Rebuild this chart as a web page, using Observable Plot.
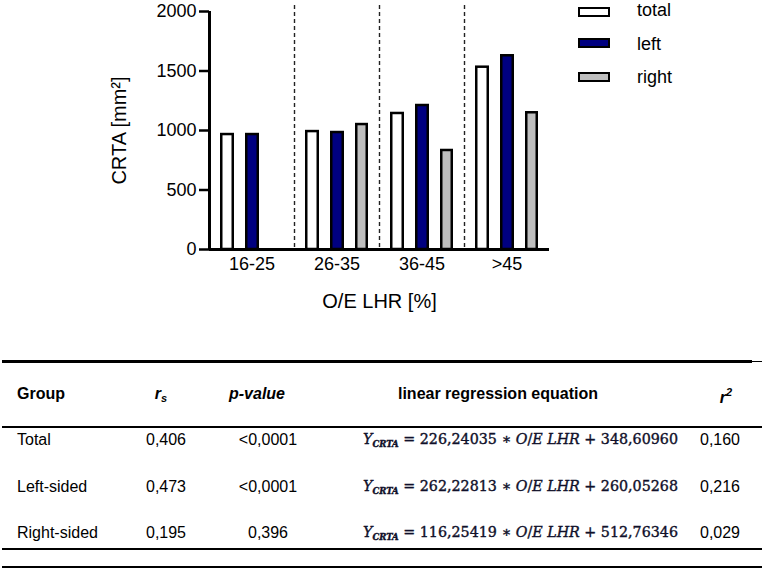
<!DOCTYPE html>
<html><head><meta charset="utf-8">
<script src="https://cdn.jsdelivr.net/npm/d3@7"></script>
<script src="https://cdn.jsdelivr.net/npm/@observablehq/plot@0.6"></script>
<style>
body{margin:0;background:#fff;font-family:"Liberation Sans",Arial,sans-serif;color:#000;}
#wrap{position:relative;width:765px;height:570px;overflow:hidden;}
#chart{position:absolute;left:0;top:0;}
.abs{position:absolute;white-space:nowrap;line-height:16px;font-size:16px;}
.c{transform:translateX(-50%);}
.hd{font-weight:bold;}
.line{position:absolute;background:#000;}
.leg-box{position:absolute;box-sizing:border-box;width:32px;height:10px;border:2.5px solid #000;}
.leg-txt{position:absolute;font-size:18px;line-height:18px;}
.eq{position:absolute;white-space:nowrap;font-family:"DejaVu Serif",serif;font-size:15px;line-height:16px;color:#10102a;transform-origin:0 0;-webkit-text-stroke:0.4px #10102a;}
.eq i{font-style:italic;}
.eq sub{font-size:9px;font-style:italic;font-weight:bold;vertical-align:-3px;}
g[aria-label="y-axis label"] text, g[aria-label="x-axis label"] text{font-size:20px;}
</style></head><body>
<div id="wrap"><div id="chart"></div></div>
<script>
// ---- chart data ----
const groups = ["16-25", "26-35", "36-45", ">45"];
const series = ["total", "left", "right"];
const totalVals = [966, 991, 1143, 1532];
const leftVals = [966, 983, 1210, 1628];
const rightVals = [null, 1050, 832, 1149];
const yTicks = [0, 500, 1000, 1500, 2000];
const seriesColors = ["#ffffff", "#000080", "#bfbfbf"];

// ---- table data ----
const tableHeaders = ["Group", "r_s", "p-value", "linear regression equation", "r²"];
const tableGroups = ["Total", "Left-sided", "Right-sided"];
const rsVals = ["0,406", "0,473", "0,195"];
const pVals = ["<0,0001", "<0,0001", "0,396"];
const slopes = ["226,24035", "262,22813", "116,25419"];
const intercepts = ["348,60960", "260,05268", "512,76346"];
const r2Vals = ["0,160", "0,216", "0,029"];

const W = 765, H = 315, ML = 209, MR = 216, MT = 11, MB = 66;
const bw = (W - ML - MR) / groups.length;

const seriesVals = [totalVals, leftVals, rightVals];
const insets = [[12.25, 61.25], [37.25, 36.25], [62.25, 12.25]];
const barMarks = series.map((s, k) => {
  const rows = groups.map((g, i) => ({group: g, value: seriesVals[k][i]})).filter(d => d.value != null);
  return Plot.barY(rows, {x: "group", y: "value", fill: seriesColors[k], stroke: "#000", strokeWidth: 2.5,
    insetLeft: insets[k][0], insetRight: insets[k][1]});
});

const plot = Plot.plot({
  width: W, height: H, marginLeft: ML, marginRight: MR, marginTop: MT, marginBottom: MB,
  style: {fontFamily: "'Liberation Sans', Arial, sans-serif", fontSize: "18px", color: "#000", background: "#fff"},
  x: {type: "band", domain: groups, paddingInner: 0, paddingOuter: 0},
  y: {domain: [0, 2000]},
  marks: [
    Plot.ruleX(groups.slice(1), {dx: -bw / 2, stroke: "#222", strokeWidth: 1.4, strokeDasharray: "4,3", insetTop: -6}),
    ...barMarks,
    Plot.ruleY([0], {strokeWidth: 3}),
    Plot.ruleX([groups[0]], {dx: -bw / 2, y1: 0, y2: 2000, strokeWidth: 3}),
    Plot.axisY({ticks: yTicks, tickFormat: d3.format("d"), tickSize: 10, tickPadding: 3, strokeWidth: 2.5, fontSize: 18,
      label: "CRTA [mm²]", labelArrow: "none", labelAnchor: "center", labelOffset: 98}),
    Plot.axisX({tickSize: 0, tickPadding: 8, fontSize: 18, label: "O/E LHR [%]", labelArrow: "none", labelAnchor: "center", labelOffset: 58})
  ]
});
const wrap = document.getElementById("wrap");
document.getElementById("chart").appendChild(plot);

// ---- legend ----
const legBoxCenters = [11.7, 43.3, 77];
const legTxtTops = [1, 35, 68];
series.forEach((s, k) => {
  const b = document.createElement("div");
  b.className = "leg-box";
  b.style.left = "578px"; b.style.top = (legBoxCenters[k] - 5) + "px";
  b.style.background = seriesColors[k];
  wrap.appendChild(b);
  const t = document.createElement("div");
  t.className = "leg-txt"; t.textContent = s;
  t.style.left = "637px"; t.style.top = legTxtTops[k] + "px";
  wrap.appendChild(t);
});

// ---- table ----
function addLine(y, h, x1, x2) {
  const d = document.createElement("div");
  d.className = "line";
  d.style.left = x1 + "px"; d.style.width = (x2 - x1) + "px";
  d.style.top = (y - h / 2) + "px"; d.style.height = h + "px";
  wrap.appendChild(d);
}
addLine(361, 3, 2, 752);
addLine(361, 1, 752, 762);
addLine(427, 1.6, 2, 762);
addLine(549, 2.5, 2, 762);
addLine(567, 2.5, 2, 762);

function addText(html, x, top, center, cls) {
  const d = document.createElement("div");
  d.className = "abs" + (center ? " c" : "") + (cls ? " " + cls : "");
  d.innerHTML = html;
  d.style.left = x + "px"; d.style.top = top + "px";
  wrap.appendChild(d);
  return d;
}
const hTop = 385.5;
addText(tableHeaders[0], 17, hTop, false, "hd");
addText('<i>r</i><sub style="font-size:11px;vertical-align:-3px;font-style:italic">s</sub>', 161, hTop, true, "hd");
addText('<i>' + tableHeaders[2] + '</i>', 257, hTop, true, "hd");
addText(tableHeaders[3], 498, hTop, true, "hd");
addText('<i>r</i><sup style="font-size:11px;vertical-align:7px;font-style:italic">2</sup>', 726, hTop - 2, true, "hd");

const rowTops = [431.5, 478.5, 524.5];
tableGroups.forEach((g, i) => {
  const t = rowTops[i];
  addText(g, 17, t, false);
  addText(rsVals[i], 166, t, true);
  addText(pVals[i].replace("<", "&lt;"), 268, t, true);
  addText(r2Vals[i], 720, t, true);
  const e = document.createElement("div");
  e.className = "eq";
  e.innerHTML = '<i>Y</i><sub>CRTA</sub> = ' + slopes[i] + ' \u2217 <i>O</i>/<i>E LHR</i> + ' + intercepts[i];
  e.style.left = "363px"; e.style.top = (t - 1) + "px";
  wrap.appendChild(e);
  const w = e.getBoundingClientRect().width;
  e.style.transform = "scaleX(" + (315 / w) + ")";
});
</script>
</body></html>
